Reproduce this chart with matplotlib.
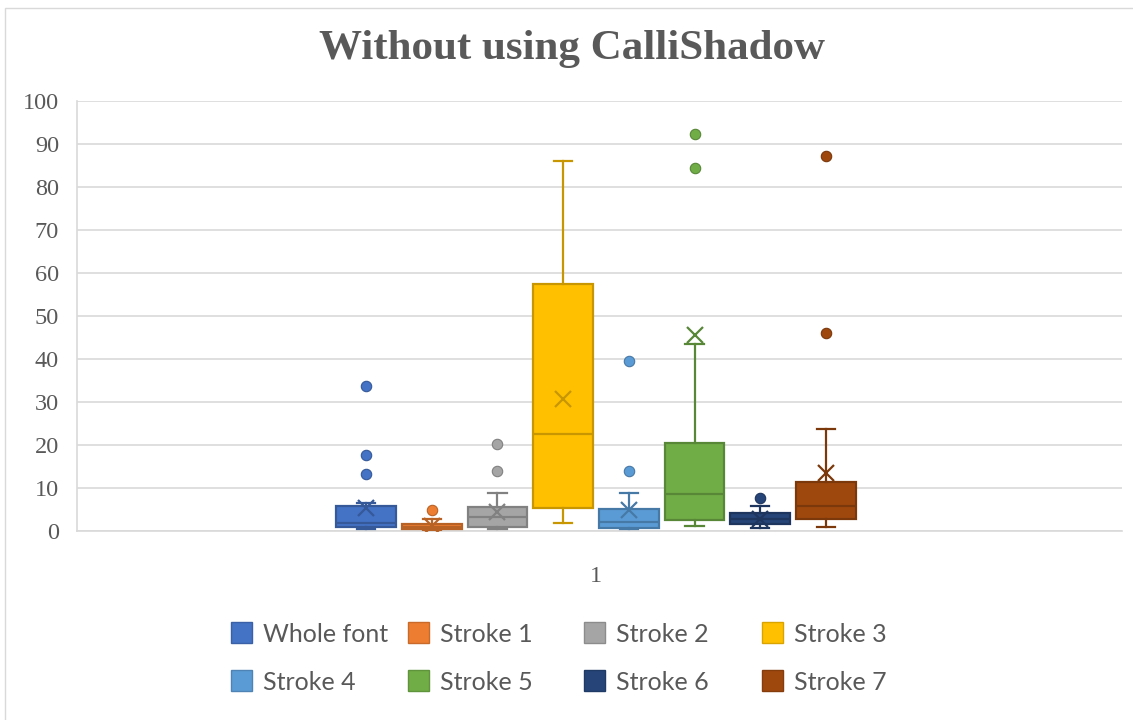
import matplotlib
matplotlib.use("Agg")
import matplotlib.pyplot as plt
from matplotlib.patches import Rectangle
from matplotlib.colors import to_rgb

# Series summary statistics (per stroke)
labels = ["Whole font", "Stroke 1", "Stroke 2", "Stroke 3",
          "Stroke 4", "Stroke 5", "Stroke 6", "Stroke 7"]
whisker_low = [0.5, 0.1, 0.4, 1.9, 0.5, 1.2, 0.8, 1.0]
quartile_1 = [0.9, 0.4, 1.0, 5.3, 0.8, 2.6, 1.55, 2.7]
medians = [1.8, 0.9, 3.2, 22.6, 2.2, 8.5, 2.9, 5.8]
quartile_3 = [5.8, 1.55, 5.6, 57.4, 5.1, 20.4, 4.1, 11.3]
whisker_high = [6.5, 2.9, 8.9, 86.0, 8.8, 43.6, 5.8, 23.8]
means = [5.3, 1.2, 4.5, 30.7, 5.0, 45.5, 2.9, 13.4]
outliers = [[33.7, 17.7, 13.3], [4.9], [20.2, 14.0], [],
            [39.5, 14.0], [92.3, 84.4], [7.6], [87.3, 46.0]]
category = "1"
y_ticks = list(range(0, 101, 10))

colors = ["#4472C4", "#ED7D31", "#A5A5A5", "#FFC000",
          "#5B9BD5", "#70AD47", "#264478", "#9E480E"]


def darker(c, f=0.78):
    r, g, b = to_rgb(c)
    return (r * f, g * f, b * f)


W, H = 1133, 720
fig = plt.figure(figsize=(W / 100, H / 100), dpi=100)
fig.patch.set_facecolor("white")

# chart frame
fig.add_artist(Rectangle((5 / W, -0.1), 2.0, 1 - 8 / H + 0.1,
                         transform=fig.transFigure, fill=False,
                         edgecolor="#d9d9d9", linewidth=1.0))

ax = fig.add_axes([77 / W, 1 - 531 / H, (1122 - 77) / W, (531 - 101) / H])
ax.set_facecolor("white")

text_gray = "#595959"
grid_gray = "#d9d9d9"

positions = list(range(1, len(labels) + 1))
for i, pos in enumerate(positions):
    st = dict(label=labels[i], whislo=whisker_low[i], q1=quartile_1[i],
              med=medians[i], q3=quartile_3[i], whishi=whisker_high[i],
              mean=means[i], fliers=outliers[i])
    c = colors[i]
    dc = darker(c)
    ax.bxp([st], positions=[pos], widths=0.91, capwidths=0.28,
           patch_artist=True, showmeans=True, showfliers=True,
           boxprops=dict(facecolor=c, edgecolor=dc, linewidth=1.6),
           medianprops=dict(color=dc, linewidth=1.6),
           whiskerprops=dict(color=dc, linewidth=1.6),
           capprops=dict(color=dc, linewidth=1.6),
           meanprops=dict(marker="x", markersize=12, markeredgecolor=dc,
                          markeredgewidth=1.6, markerfacecolor="none"),
           flierprops=dict(marker="o", markersize=7.5, markerfacecolor=c,
                           markeredgecolor=dc, markeredgewidth=0.8),
           zorder=3)

ax.set_xlim(-3.40, 12.506)
ax.set_ylim(0, 100)
ax.set_yticks(y_ticks)
ax.set_xticks([4.5])
ax.set_xticklabels([category])
ax.yaxis.grid(True, color=grid_gray, linewidth=1.2, zorder=0)
ax.set_axisbelow(True)
for s in ["top", "right"]:
    ax.spines[s].set_visible(False)
for s in ["left", "bottom"]:
    ax.spines[s].set_color(grid_gray)
    ax.spines[s].set_linewidth(1.2)
ax.tick_params(axis="both", length=0, labelcolor=text_gray,
               labelsize=17.5)
ax.tick_params(axis="y", pad=13)
ax.tick_params(axis="x", pad=25)
for lab in ax.get_xticklabels() + ax.get_yticklabels():
    lab.set_fontfamily("Liberation Serif")

fig.text(0.505, 1 - 49 / H, "Without using CalliShadow",
         ha="center", va="center", fontsize=31, fontweight="bold",
         family="Liberation Serif", color=text_gray)

# legend: 2 rows x 4 columns
col_x = [231, 408, 584, 762]
row_y = [632, 680]
sq = 21
for i, lab in enumerate(labels):
    r, cidx = divmod(i, 4)
    x0 = col_x[cidx]
    yc = row_y[r]
    fig.add_artist(Rectangle((x0 / W, 1 - (yc + sq / 2) / H), sq / W, sq / H,
                             transform=fig.transFigure, facecolor=colors[i],
                             edgecolor=darker(colors[i], 0.85), linewidth=1.0))
    fig.text((x0 + 32) / W, 1 - (yc + 2) / H, lab, ha="left", va="center",
             fontsize=18, family="Lato", color=text_gray)

fig.savefig("out.png", dpi=100, facecolor="white")
